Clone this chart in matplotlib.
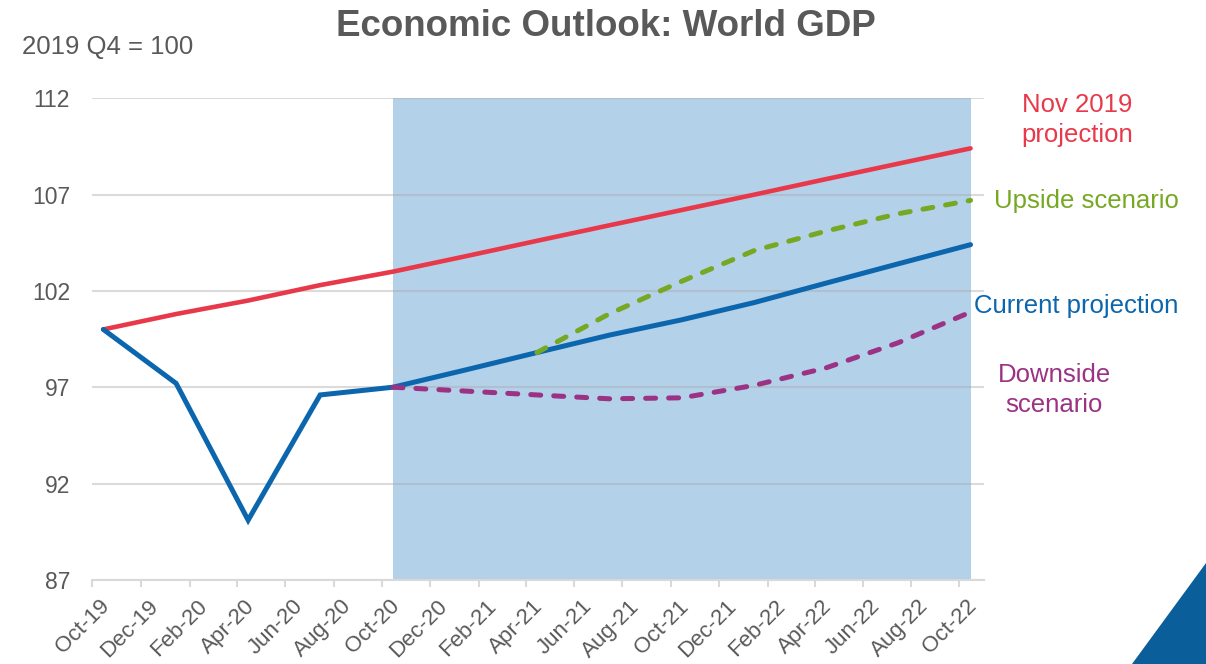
import matplotlib
matplotlib.use('Agg')
import matplotlib.pyplot as plt    # 绘图
import matplotlib.dates as mdates    # 日期坐标
import matplotlib.transforms as mtransforms    # 标签偏移
from matplotlib.patches import Polygon    # 角落三角形
import pandas as pd

# 数据：季度中点，2019 Q4 = 100
quarters = ['2019-10-15', '2020-01-15', '2020-04-15', '2020-07-15', '2020-10-15',
            '2021-01-15', '2021-04-15', '2021-07-15', '2021-10-15',
            '2022-01-15', '2022-04-15', '2022-07-15', '2022-10-15']
current = [100.0, 97.2, 90.1, 96.6, 97.0, 97.9, 98.8, 99.7, 100.5, 101.4, 102.4, 103.4, 104.4]
nov2019 = [100.0, 100.8, 101.5, 102.3, 103.0, 103.8, 104.6, 105.4, 106.2, 107.0, 107.8, 108.6, 109.4]
upside_quarters = quarters[6:]
upside = [98.8, 100.8, 102.5, 104.1, 105.1, 106.0, 106.7]
downside_quarters = quarters[4:]
downside = [97.0, 96.8, 96.6, 96.4, 96.45, 97.1, 98.0, 99.3, 100.9]
forecast_span = ['2020-10-15', '2022-10-15']
y_ticks = [87, 92, 97, 102, 107, 112]

plt.rcParams['font.family'] = ['Liberation Sans', 'DejaVu Sans']

RED = '#E8394A'
BLUE = '#0B66AE'
GREEN = '#77A824'
PURPLE = '#9B3283'
SHADE = '#B4D1EA'
GREY = '#595959'

fig = plt.figure(figsize=(12.06, 6.64), dpi=100)
ax = fig.add_axes([0.0765, 0.1267, 0.7394, 0.7253])

q = pd.to_datetime(quarters)
ax.axvspan(pd.to_datetime(forecast_span[0]), pd.to_datetime(forecast_span[1]), color=SHADE, lw=0, zorder=1)

ax.plot(q, nov2019, color=RED, lw=3.3, solid_capstyle='round', zorder=3)
ax.plot(q, current, color=BLUE, lw=3.6, solid_capstyle='round', solid_joinstyle='miter', zorder=4)
ax.plot(pd.to_datetime(upside_quarters), upside, color=GREEN, lw=3.6, dashes=(2.0, 2.6),
        dash_capstyle='round', zorder=5)
ax.plot(pd.to_datetime(downside_quarters), downside, color=PURPLE, lw=3.6, dashes=(2.0, 2.6),
        dash_capstyle='round', zorder=5)

# 坐标轴
ax.set_xlim(pd.Timestamp('2019-10-01'), pd.Timestamp('2022-11-01'))
ax.set_ylim(87, 112)
ax.set_yticks(y_ticks)
ticks = pd.date_range('2019-10-01', '2022-10-01', freq='2MS')
ax.set_xticks(ticks)
ax.xaxis.set_major_formatter(mdates.DateFormatter('%b-%y'))

for s in ['top', 'right', 'left']:
    ax.spines[s].set_visible(False)
ax.spines['bottom'].set_color('#d9d9d9')
ax.spines['bottom'].set_linewidth(1.5)
ax.yaxis.grid(True, color='#a6a6a6', alpha=0.4, lw=1.5)
ax.set_axisbelow('line')
ax.tick_params(axis='y', length=0, pad=16, labelsize=16.5, labelcolor=GREY)
ax.tick_params(axis='x', length=5, width=1.5, color='#d9d9d9', direction='out',
               labelsize=16, labelcolor=GREY, pad=2)
offset = mtransforms.ScaledTranslation(5 / 72, -4.5 / 72, fig.dpi_scale_trans)
for lab in ax.get_xticklabels():
    lab.set_rotation(45)
    lab.set_ha('right')
    lab.set_va('top')
    lab.set_rotation_mode('anchor')
    lab.set_transform(lab.get_transform() + offset)

# 标题与注释
fig.text(606 / 1206, 1 - 27 / 664, 'Economic Outlook: World GDP', ha='center', va='center',
         fontsize=26.5, fontweight='bold', color=GREY)
fig.text(22 / 1206, 1 - 47 / 664, '2019 Q4 = 100', ha='left', va='center', fontsize=18.5, color=GREY)

fig.text(1077 / 1206, 1 - 120 / 664, 'Nov 2019\nprojection', ha='center', va='center',
         fontsize=18.5, color=RED, linespacing=1.28)
fig.text(1086 / 1206, 1 - 201 / 664, 'Upside scenario', ha='center', va='center', fontsize=18.5, color=GREEN)
fig.text(1076 / 1206, 1 - 306 / 664, 'Current projection', ha='center', va='center', fontsize=18.5, color=BLUE)
fig.text(1054 / 1206, 1 - 390 / 664, 'Downside\nscenario', ha='center', va='center',
         fontsize=18.5, color=PURPLE, linespacing=1.28)

# 右下角装饰三角形
tri = Polygon([(1132 / 1206, 0), (1, 0), (1, 1 - 563 / 664)], closed=True,
              transform=fig.transFigure, facecolor='#0A5E9A', edgecolor='none')
fig.patches.append(tri)

fig.savefig('out.png', dpi=100)
